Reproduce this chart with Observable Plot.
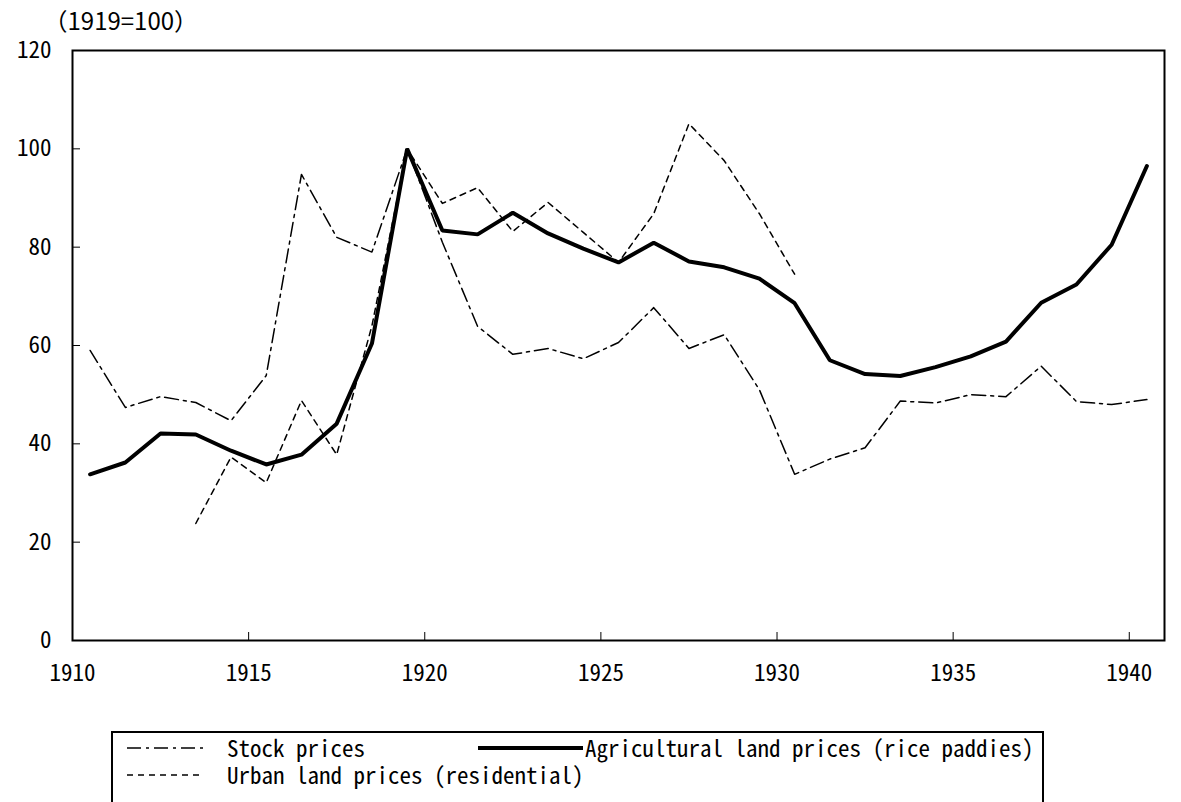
<!DOCTYPE html>
<html><head><meta charset="utf-8">
<script src="https://cdn.jsdelivr.net/npm/d3@7"></script>
<script src="https://cdn.jsdelivr.net/npm/@observablehq/plot@0.6"></script>
<style>
body{margin:0;background:#fff;}
#wrap{position:relative;width:1181px;height:802px;overflow:hidden;background:#fff;color:#000;
  font-family:"Noto Sans CJK JP",sans-serif;font-feature-settings:"hwid" 1;}
#legend{position:absolute;left:111px;top:731px;width:933px;height:130px;border:2px solid #000;box-sizing:border-box;}
.lg{position:absolute;font-size:23px;line-height:25px;white-space:pre;}
.sw{position:absolute;}
</style></head>
<body><div id="wrap"><div id="chart"></div>
<div id="legend"></div>
<div class="sw" style="left:127px;top:738px"><svg width="80" height="20"><line x1="0" x2="76" y1="10" y2="10" stroke="#000" stroke-width="1.5" stroke-dasharray="14,5,3,5"/></svg></div>
<div class="lg" style="left:227px;top:735px">Stock prices</div>
<div class="sw" style="left:478px;top:738px"><svg width="110" height="20"><line x1="0" x2="105" y1="10" y2="10" stroke="#000" stroke-width="4"/></svg></div>
<div class="lg" style="left:585px;top:735px">Agricultural land prices (rice paddies)</div>
<div class="sw" style="left:127px;top:765px"><svg width="80" height="20"><line x1="0" x2="76" y1="10" y2="10" stroke="#000" stroke-width="1.5" stroke-dasharray="6,5"/></svg></div>
<div class="lg" style="left:227px;top:762px">Urban land prices (residential)</div>
</div>
<script>
const years = [1910,1911,1912,1913,1914,1915,1916,1917,1918,1919,1920,1921,1922,1923,1924,1925,1926,1927,1928,1929,1930,1931,1932,1933,1934,1935,1936,1937,1938,1939,1940];
const stockPrices = [59.0,47.4,49.6,48.4,44.7,53.9,94.8,82.0,79.0,100,81.0,63.9,58.2,59.4,57.3,60.6,67.7,59.4,62.2,51.0,33.8,36.9,39.2,48.7,48.3,50.0,49.6,55.8,48.6,48.0,49.0];
const agriPrices = [33.8,36.2,42.1,41.9,38.6,35.8,37.8,44.1,60.4,100,83.4,82.6,87.0,82.8,79.7,76.9,80.9,77.1,75.9,73.6,68.6,57.0,54.2,53.8,55.6,57.8,60.8,68.7,72.4,80.5,96.5];
const urbanYears = [1913,1914,1915,1916,1917,1918,1919,1920,1921,1922,1923,1924,1925,1926,1927,1928,1929,1930];
const urbanPrices = [23.8,37.3,32.1,48.8,37.8,64.0,100,88.9,92.1,83.2,89.1,83.0,76.9,86.8,105.1,97.6,86.8,74.5];
const xTicks = [1910,1915,1920,1925,1930,1935,1940];
const yTicks = [0,20,40,60,80,100,120];
const unitLabel = ["（1919=100）"];

const rows = (ys, vs) => ys.map((y, i) => ({year: y, value: vs[i]}));
const stock = rows(years, stockPrices);
const agri = rows(years, agriPrices);
const urban = rows(urbanYears, urbanPrices);
const mid = d => d.year + 0.5;

const chart = Plot.plot({
  width: 1181, height: 725,
  marginLeft: 72, marginRight: 17, marginTop: 50, marginBottom: 85,
  style: "font-family:'Noto Sans CJK JP',sans-serif;font-size:23px;font-feature-settings:'hwid' 1;background:#fff;color:#000;overflow:visible;",
  x: {domain: [1910, 1941], label: null},
  y: {domain: [0, 120], label: null},
  marks: [
    Plot.axisY({ticks: yTicks, tickSize: -8, tickPadding: 29, tickFormat: d => String(d), label: null}),
    Plot.axisX({ticks: xTicks, tickSize: -8, tickPadding: 32, tickFormat: d => String(d), label: null}),
    Plot.line(urban, {x: mid, y: "value", stroke: "#000", strokeWidth: 1.5, strokeDasharray: "6,5"}),
    Plot.line(stock, {x: mid, y: "value", stroke: "#000", strokeWidth: 1.5, strokeDasharray: "14,5,3,5"}),
    Plot.line(agri, {x: mid, y: "value", stroke: "#000", strokeWidth: 4, strokeLinejoin: "miter"}),
    Plot.frame({stroke: "#000", strokeWidth: 2}),
    Plot.text(unitLabel, {text: d => d, frameAnchor: "top-left", dx: -29, dy: -28, textAnchor: "start", lineAnchor: "middle", fontSize: 24})
  ]
});
d3.select(chart).selectAll("g[aria-label='text'] text").style("font-feature-settings", "normal");
document.getElementById("chart").appendChild(chart);
</script>
</body></html>
